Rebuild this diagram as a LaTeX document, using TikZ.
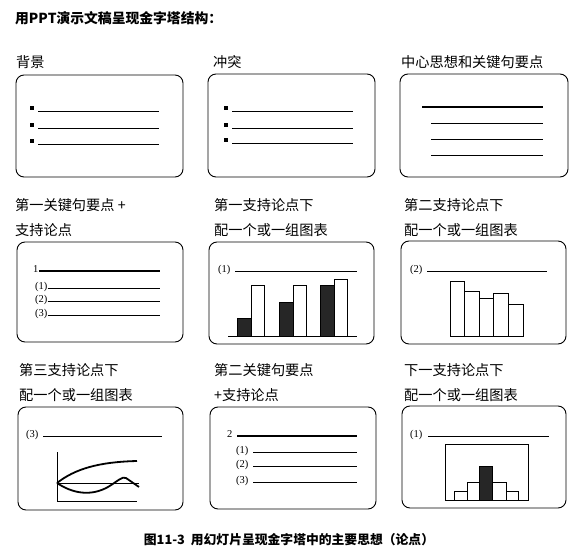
\documentclass[tikz,border=0pt]{standalone}
\usepackage{fontspec}
\setmainfont{Liberation Serif}
\newfontfamily\cjk{Noto Sans CJK SC}
\usetikzlibrary{positioning}

\begin{document}
\begin{tikzpicture}[x=1pt,y=-1pt,
  panel/.style={draw,line width=0.9pt,rounded corners=8pt},
  ttl/.style={anchor=west,inner sep=0pt,font=\cjk\fontsize{14.2}{14.2}\selectfont},
  num/.style={anchor=west,inner sep=0pt,font=\fontsize{10.5}{10.5}\selectfont},
  rule/.style={line width=0.8pt},
  keyrule/.style={line width=2.2pt},
  dot/.style={fill,inner sep=0pt,minimum size=3.4pt},
  bar/.style={draw,line width=0.8pt,fill=white},
  dark/.style={draw,line width=0.8pt,fill=black!85}]
\useasboundingbox (0,0) rectangle (587,556);
\node[anchor=west,inner sep=0pt,font=\cjk\bfseries\fontsize{13.8}{13.8}\selectfont] (head) at (15,18) {用PPT演示文稿呈现金字塔结构：};

% --- row 1
\node[ttl] (t1) at (16,62) {背景};
\draw[panel] (16,75) rectangle (183,177);
\foreach \y [count=\i] in {111,128,144} {
  \node[dot] (b1\i) at (32,\y-3) {};
  \draw[rule] (38,\y) -- (159,\y);
}
\node[ttl] (t2) at (213,62) {冲突};
\draw[panel] (208,74) rectangle (375,177);
\foreach \y [count=\i] in {111,128,143} {
  \node[dot] (b2\i) at (226,\y-3) {};
  \draw[rule] (232,\y) -- (353,\y);
}
\node[ttl] (t3) at (401,62) {中心思想和关键句要点};
\draw[panel] (400,74) rectangle (568,177);
\draw[keyrule] (422,107) -- (543,107);
\foreach \y in {123,139,155} \draw[rule] (431,\y) -- (543,\y);

% --- row 2
\node[ttl] (t4a) at (15,205) {第一关键句要点 +};
\node[ttl] (t4b) at (15,230) {支持论点};
\draw[panel] (17,242) rectangle (183,342);
\node[num] (k1) at (33,269) {1};
\draw[keyrule] (39,271) -- (160,271);
\foreach \y [count=\i] in {288,301,315} {
  \node[num] (s1\i) at (35,\y-1) {(\i)};
  \draw[rule] (s1\i.east) ++(0,1) -- (160,\y);
}
\node[ttl] (t5a) at (214,205) {第一支持论点下};
\node[ttl] (t5b) at (214,230) {配一个或一组图表};
\draw[panel] (209,242) rectangle (374,344);
\node[num] (c1) at (218,270) {(1)};
\draw[rule] (235,271) -- (357,271);
\draw[rule] (228,336) -- (357,336);
\foreach \xa/\ya/\yb in {237/318/285,279/302/285,320/285/279} {
  \draw[dark] (\xa,336) rectangle (\xa+14,\ya);
  \draw[bar] (\xa+14,336) rectangle (\xa+27,\yb);
}
\node[ttl] (t6a) at (404,205) {第二支持论点下};
\node[ttl] (t6b) at (404,230) {配一个或一组图表};
\draw[panel] (401,241) rectangle (566,344);
\node[num] (c2) at (410,270) {(2)};
\draw[rule] (427,271) -- (547,271);
\foreach \xa/\xb/\yt in {450/464/281,464/479/291,479/493/298,493/508/293,508/523/304}
  \draw[bar] (\xa,336) rectangle (\xb,\yt);

% --- row 3
\node[ttl] (t7a) at (19,370) {第三支持论点下};
\node[ttl] (t7b) at (19,395) {配一个或一组图表};
\draw[panel] (18,407) rectangle (183,510);
\node[num] (c3) at (26,435) {(3)};
\draw[rule] (43,436) -- (162,436);
\coordinate (o) at (57,483);
\draw[rule] (57,452) -- (57,501) -- (137,501);
\draw[line width=0.6pt] (o) -- (139,483);
\draw[line width=1.8pt] (o) .. controls (75,469) and (98,462) .. (137,461);
\draw[line width=1.8pt] (o) .. controls (72,493) and (90,497) .. (108,487)
  .. controls (118,481) and (122,476) .. (126,478) -- (139,487);
\node[ttl] (t8a) at (214,370) {第二关键句要点};
\node[ttl] (t8b) at (214,395) {+支持论点};
\draw[panel] (210,407) rectangle (376,509);
\node[num] (k2) at (227,434) {2};
\draw[keyrule] (237,436) -- (357,436);
\foreach \y [count=\i] in {452,466,482} {
  \node[num] (s2\i) at (236,\y-1) {(\i)};
  \draw[rule] (253,\y) -- (357,\y);
}
\node[ttl] (t9a) at (404,370) {下一支持论点下};
\node[ttl] (t9b) at (404,395) {配一个或一组图表};
\draw[panel] (402,406) rectangle (566,508);
\node[num] (c4) at (410,435) {(1)};
\draw[rule] (428,436) -- (549,436);
\draw[rule] (445,444) rectangle (528,500);
\foreach \xa/\xb/\yt in {454/467/491,467/479/482,492/506/482,506/518/491}
  \draw[bar] (\xa,500) rectangle (\xb,\yt);
\draw[dark] (479,500) rectangle (492,466);

\node[font=\cjk\bfseries\fontsize{12.8}{12.8}\selectfont] (cap) at (289,540) {图11-3\ \ 用幻灯片呈现金字塔中的主要思想（论点）};
\end{tikzpicture}
\end{document}
